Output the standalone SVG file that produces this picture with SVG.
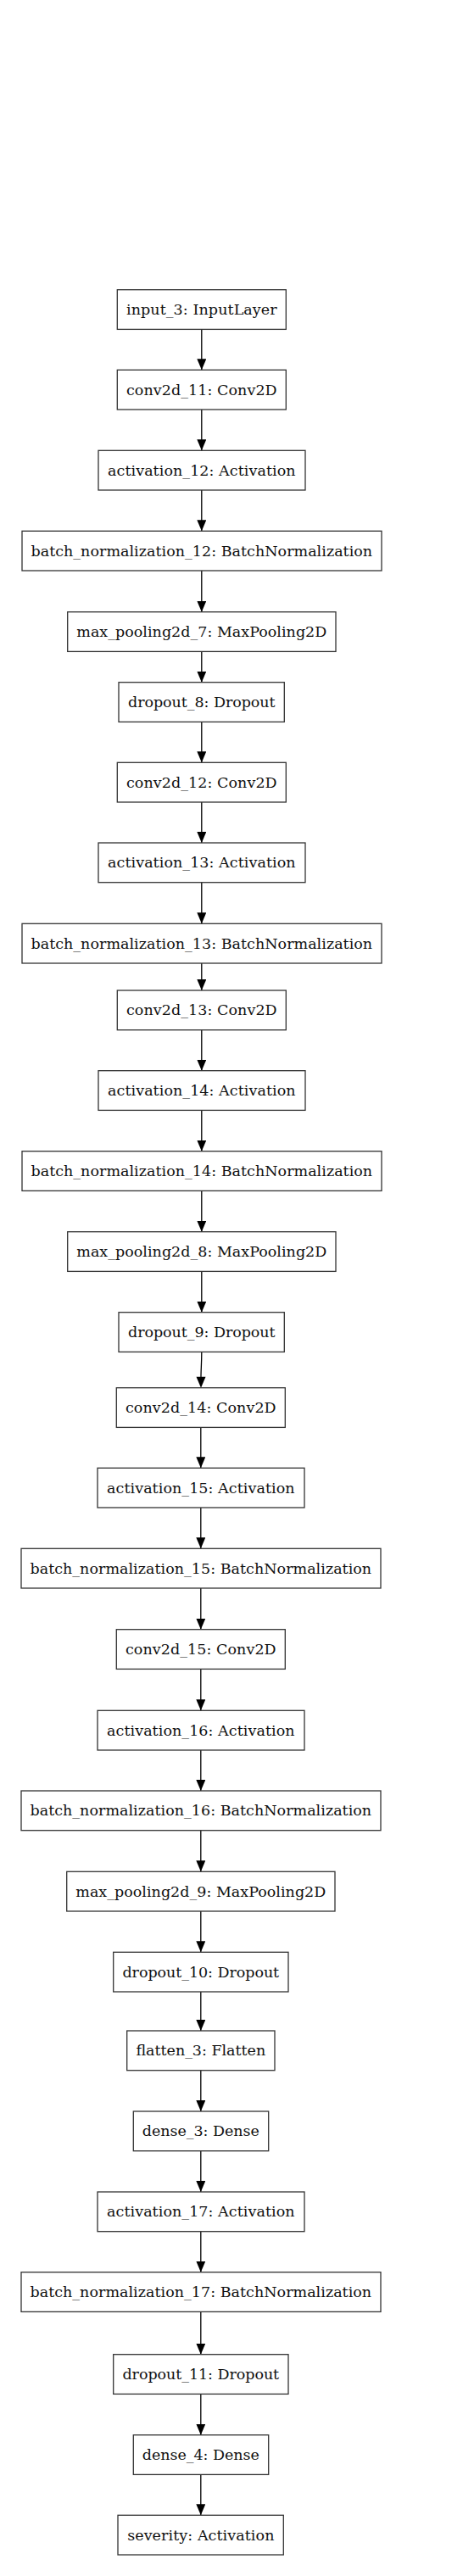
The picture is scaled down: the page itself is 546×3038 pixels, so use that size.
<svg xmlns="http://www.w3.org/2000/svg" width="546" height="3038" viewBox="0 0 546 3038">
<style>
.n rect{fill:#fff;stroke:#333;stroke-width:1.3}
.n text{font-family:"DejaVu Serif","Liberation Serif",serif;font-size:17.5px;fill:#111;text-anchor:middle}
.e line{stroke:#000;stroke-width:1.3;marker-end:url(#ah)}
</style>
<defs>
<marker id="ah" viewBox="0 0 13 11" refX="13" refY="5.5" markerWidth="13" markerHeight="11" orient="auto" markerUnits="userSpaceOnUse">
<path d="M0,0 L13,5.5 L0,11 z" fill="#000"/>
</marker>
</defs>
<rect width="546" height="3038" fill="#fff"/>
<g id="edges" class="e">
<line x1="237.8" y1="388.4" x2="237.8" y2="436.3"/>
<line x1="237.8" y1="483" x2="237.8" y2="531.3"/>
<line x1="237.8" y1="578" x2="237.8" y2="626.3"/>
<line x1="237.8" y1="673" x2="237.8" y2="721.7"/>
<line x1="237.8" y1="768.4" x2="237.8" y2="804.7"/>
<line x1="237.8" y1="851.4" x2="237.8" y2="899.3"/>
<line x1="237.8" y1="946" x2="237.8" y2="994"/>
<line x1="237.8" y1="1040.7" x2="237.8" y2="1089.3"/>
<line x1="237.8" y1="1136" x2="237.8" y2="1168"/>
<line x1="237.8" y1="1214.7" x2="237.8" y2="1262.7"/>
<line x1="237.8" y1="1309.4" x2="237.8" y2="1357.7"/>
<line x1="237.8" y1="1404.4" x2="237.8" y2="1452.7"/>
<line x1="237.8" y1="1499.4" x2="237.8" y2="1547.7"/>
<path d="M237.8,1594.4 C237.8,1608 237,1615 237,1623.7 L237,1630" fill="none" stroke="#000" stroke-width="1.3"/>
<path d="M231.5,1623.7 L242.5,1623.7 L237,1636.7 z" fill="#000"/>
<line x1="236.8" y1="1683.4" x2="236.8" y2="1731.3"/>
<line x1="236.8" y1="1778" x2="236.8" y2="1826.3"/>
<line x1="236.8" y1="1873" x2="236.8" y2="1921.7"/>
<line x1="236.8" y1="1968.4" x2="236.8" y2="2017.3"/>
<line x1="236.8" y1="2064" x2="236.8" y2="2112"/>
<line x1="236.8" y1="2158.7" x2="236.8" y2="2207.3"/>
<line x1="236.8" y1="2254" x2="236.8" y2="2302.3"/>
<line x1="236.8" y1="2349" x2="236.8" y2="2395"/>
<line x1="236.8" y1="2441.7" x2="236.8" y2="2490"/>
<line x1="236.8" y1="2536.7" x2="236.8" y2="2585"/>
<line x1="236.8" y1="2631.7" x2="236.8" y2="2679.7"/>
<line x1="236.8" y1="2726.4" x2="236.8" y2="2776.7"/>
<line x1="236.8" y1="2823.4" x2="236.8" y2="2871.7"/>
<line x1="236.8" y1="2918.4" x2="236.8" y2="2966.3"/>
</g>
<g id="input_3" class="n"><rect x="138.3" y="341.7" width="199" height="46.7"/><text x="237.8" y="371" textLength="177.7">input_3: InputLayer</text></g>
<g id="conv2d_11" class="n"><rect x="138.3" y="436.3" width="199" height="46.7"/><text x="237.8" y="465.6" textLength="177.7">conv2d_11: Conv2D</text></g>
<g id="activation_12" class="n"><rect x="116" y="531.3" width="244" height="46.7"/><text x="237.8" y="560.6" textLength="221.5">activation_12: Activation</text></g>
<g id="batch_normalization_12" class="n"><rect x="26" y="626.3" width="424" height="46.7"/><text x="237.8" y="655.6" textLength="402.7">batch_normalization_12: BatchNormalization</text></g>
<g id="max_pooling2d_7" class="n"><rect x="79.7" y="721.7" width="316.3" height="46.7"/><text x="237.8" y="751" textLength="295">max_pooling2d_7: MaxPooling2D</text></g>
<g id="dropout_8" class="n"><rect x="140" y="804.7" width="195.3" height="46.7"/><text x="237.8" y="834" textLength="173.5">dropout_8: Dropout</text></g>
<g id="conv2d_12" class="n"><rect x="138.3" y="899.3" width="199" height="46.7"/><text x="237.8" y="928.6" textLength="177.7">conv2d_12: Conv2D</text></g>
<g id="activation_13" class="n"><rect x="116" y="994" width="244" height="46.7"/><text x="237.8" y="1023.3" textLength="221.5">activation_13: Activation</text></g>
<g id="batch_normalization_13" class="n"><rect x="26" y="1089.3" width="424" height="46.7"/><text x="237.8" y="1118.6" textLength="402.7">batch_normalization_13: BatchNormalization</text></g>
<g id="conv2d_13" class="n"><rect x="138.3" y="1168" width="199" height="46.7"/><text x="237.8" y="1197.3" textLength="177.7">conv2d_13: Conv2D</text></g>
<g id="activation_14" class="n"><rect x="116" y="1262.7" width="244" height="46.7"/><text x="237.8" y="1292" textLength="221.5">activation_14: Activation</text></g>
<g id="batch_normalization_14" class="n"><rect x="26" y="1357.7" width="424" height="46.7"/><text x="237.8" y="1387" textLength="402.7">batch_normalization_14: BatchNormalization</text></g>
<g id="max_pooling2d_8" class="n"><rect x="79.7" y="1452.7" width="316.3" height="46.7"/><text x="237.8" y="1482" textLength="295">max_pooling2d_8: MaxPooling2D</text></g>
<g id="dropout_9" class="n"><rect x="140" y="1547.7" width="195.3" height="46.7"/><text x="237.8" y="1577" textLength="173.5">dropout_9: Dropout</text></g>
<g id="conv2d_14" class="n"><rect x="137.3" y="1636.7" width="199" height="46.7"/><text x="236.8" y="1666" textLength="177.7">conv2d_14: Conv2D</text></g>
<g id="activation_15" class="n"><rect x="115" y="1731.3" width="244" height="46.7"/><text x="236.8" y="1760.6" textLength="221.5">activation_15: Activation</text></g>
<g id="batch_normalization_15" class="n"><rect x="25" y="1826.3" width="424" height="46.7"/><text x="236.8" y="1855.6" textLength="402.7">batch_normalization_15: BatchNormalization</text></g>
<g id="conv2d_15" class="n"><rect x="137.3" y="1921.7" width="199" height="46.7"/><text x="236.8" y="1951" textLength="177.7">conv2d_15: Conv2D</text></g>
<g id="activation_16" class="n"><rect x="115" y="2017.3" width="244" height="46.7"/><text x="236.8" y="2046.6" textLength="221.5">activation_16: Activation</text></g>
<g id="batch_normalization_16" class="n"><rect x="25" y="2112" width="424" height="46.7"/><text x="236.8" y="2141.3" textLength="402.7">batch_normalization_16: BatchNormalization</text></g>
<g id="max_pooling2d_9" class="n"><rect x="78.7" y="2207.3" width="316.3" height="46.7"/><text x="236.8" y="2236.6" textLength="295">max_pooling2d_9: MaxPooling2D</text></g>
<g id="dropout_10" class="n"><rect x="133.7" y="2302.3" width="206.3" height="46.7"/><text x="236.8" y="2331.6" textLength="184.7">dropout_10: Dropout</text></g>
<g id="flatten_3" class="n"><rect x="149.7" y="2395" width="174.3" height="46.7"/><text x="236.8" y="2424.3" textLength="152.7">flatten_3: Flatten</text></g>
<g id="dense_3" class="n"><rect x="157.3" y="2490" width="159.4" height="46.7"/><text x="236.8" y="2519.3" textLength="138">dense_3: Dense</text></g>
<g id="activation_17" class="n"><rect x="115" y="2585" width="244" height="46.7"/><text x="236.8" y="2614.3" textLength="221.5">activation_17: Activation</text></g>
<g id="batch_normalization_17" class="n"><rect x="25" y="2679.7" width="424" height="46.7"/><text x="236.8" y="2709" textLength="402.7">batch_normalization_17: BatchNormalization</text></g>
<g id="dropout_11" class="n"><rect x="133.7" y="2776.7" width="206.3" height="46.7"/><text x="236.8" y="2806" textLength="184.7">dropout_11: Dropout</text></g>
<g id="dense_4" class="n"><rect x="157.3" y="2871.7" width="159.4" height="46.7"/><text x="236.8" y="2901" textLength="138">dense_4: Dense</text></g>
<g id="severity" class="n"><rect x="139" y="2966.3" width="195.3" height="46.7"/><text x="236.8" y="2995.6" textLength="173.3">severity: Activation</text></g>
</svg>
